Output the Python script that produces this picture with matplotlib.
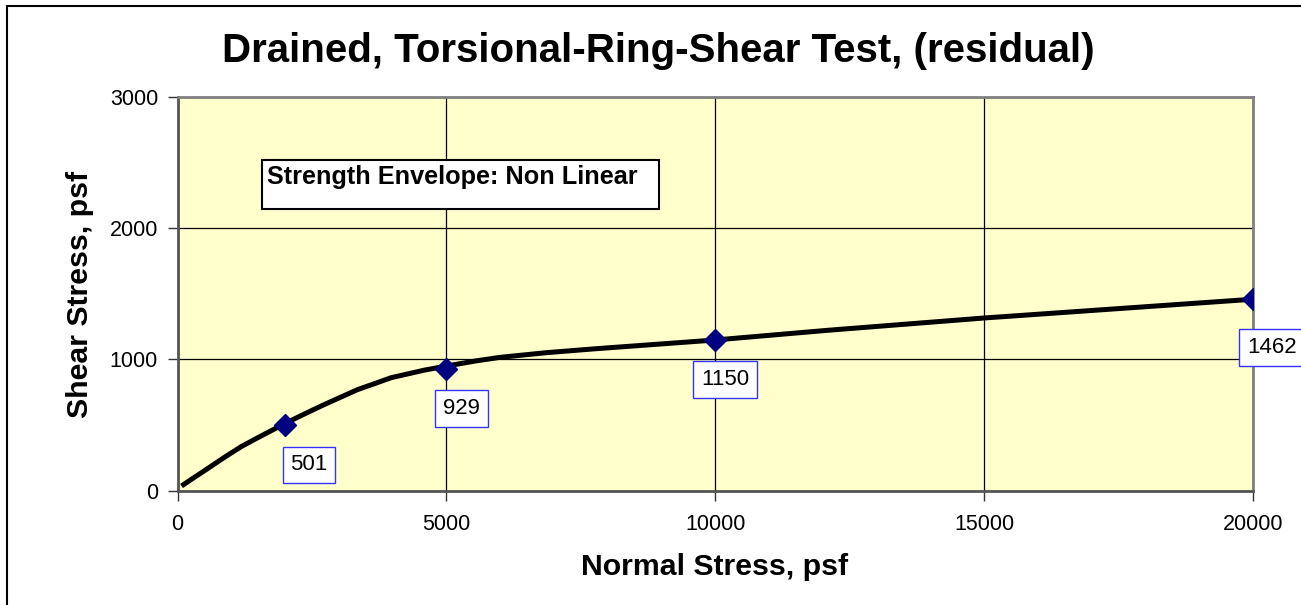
import matplotlib.pyplot as plt
from matplotlib.patches import Rectangle

plt.rcParams['font.family'] = ['Liberation Sans', 'DejaVu Sans']

# test results (normal stress, residual shear stress), psf
normal_stress = [2000, 5000, 10000, 20000]
shear_stress = [501, 929, 1150, 1462]

# non linear strength envelope
env_normal = [75, 260, 570, 879, 1190, 1500, 2000, 2430, 2730, 3350, 3670,
              3970, 4290, 4590, 5000, 5530, 5990, 6860, 7780, 9980, 12110,
              15000, 20000]
env_shear = [36, 87, 171, 256, 337, 405, 512, 598, 656, 770, 816,
             860, 890, 918, 949, 987, 1015, 1051, 1081, 1147, 1222,
             1315, 1458]

x_ticks = [0, 5000, 10000, 15000, 20000]
y_ticks = [0, 1000, 2000, 3000]

# label offsets in pixels (right, down)
label_offsets = [(24, 40), (15, 40), (10, 40), (19, 49)]

W, H = 1301, 605
fig = plt.figure(figsize=(W / 100, H / 100), dpi=100)
fig.patch.set_facecolor('white')

ax = fig.add_axes([177.5 / W, 1 - 490.7 / H, (1253 - 177.5) / W, (490.7 - 96.7) / H])
ax.set_facecolor('#FFFFCC')

ax.plot(env_normal, env_shear, color='black', lw=3.6, solid_capstyle='butt',
        solid_joinstyle='round', zorder=3)
ax.plot(normal_stress, shear_stress, ls='none', marker='D', ms=11,
        color='#000080', zorder=4)

for x, y, (dx, dy) in zip(normal_stress, shear_stress, label_offsets):
    ax.annotate(str(y), (x, y), xytext=(dx, -dy), textcoords='offset pixels',
                ha='center', va='center', fontsize=16, annotation_clip=False,
                bbox=dict(boxstyle='square,pad=0.35', fc='white', ec='#3333FF', lw=1),
                zorder=5)

ax.set_xlim(0, 20000)
ax.set_ylim(0, 3000)
ax.set_xticks(x_ticks)
ax.set_yticks(y_ticks)
ax.grid(True, color='black', lw=0.9)
ax.set_axisbelow(True)
ax.tick_params(direction='out', length=7, width=1, colors='#333333',
               labelcolor='black', labelsize=15.5)
ax.tick_params(axis='x', pad=10)
ax.tick_params(axis='y', pad=7)

for side in ['top', 'right']:
    ax.spines[side].set_color('#808080')
    ax.spines[side].set_linewidth(2)
for side in ['left', 'bottom']:
    ax.spines[side].set_color('#555555')
    ax.spines[side].set_linewidth(2)

fig.text(80 / W, 1 - 294 / H, 'Shear Stress, psf', rotation=90, ha='center',
         va='center', fontsize=21.8, fontweight='bold')
fig.text(715 / W, 1 - 567 / H, 'Normal Stress, psf', ha='center', va='center',
         fontsize=21.8, fontweight='bold')
fig.text(658 / W, 1 - 51 / H, 'Drained, Torsional-Ring-Shear Test, (residual)',
         ha='center', va='center', fontsize=29, fontweight='bold')

# envelope note box
fig.patches.append(Rectangle((262 / W, 1 - 209 / H), (659 - 262) / W, 49 / H,
                             transform=fig.transFigure, fc='white', ec='black',
                             lw=1.5, zorder=6))
fig.text(267 / W, 1 - 177 / H, 'Strength Envelope: Non Linear', ha='left',
         va='center', fontsize=18.2, fontweight='bold', zorder=7)

# outer chart frame
fig.patches.append(Rectangle((7 / W, -0.5), 1.5, 1.5 - 6 / H,
                             transform=fig.transFigure, fill=False,
                             ec='black', lw=1.5))

fig.savefig('out.png', dpi=100)
